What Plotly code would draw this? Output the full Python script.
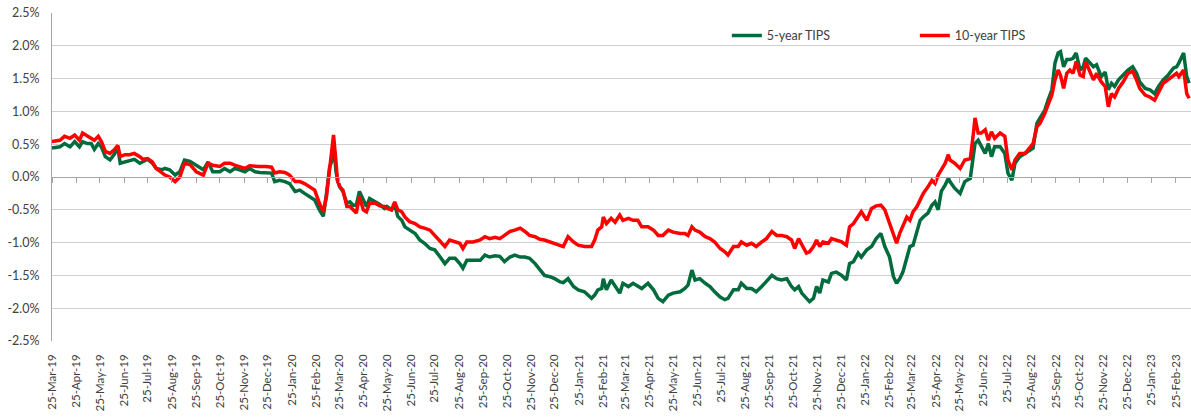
import pandas as pd
import plotly.graph_objects as go

# ---------------- data ----------------
start = "2019-03-25"
# observation day, counted from the start date
day = [0, 10, 16, 23, 29, 35, 39, 45, 50, 54,
       59, 63, 68, 74, 79, 84, 87, 93, 99, 105,
       112, 116, 122, 128, 133, 140, 144, 150, 157, 163,
       169, 176, 184, 193, 199, 205, 214, 220, 227, 233,
       239, 246, 252, 259, 265, 273, 280, 284, 290, 297,
       303, 310, 316, 322, 329, 335, 341, 346, 350, 352,
       354, 357, 359, 362, 364, 367, 371, 376, 380, 384,
       388, 392, 397, 401, 405, 412, 418, 424, 427, 433,
       437, 441, 446, 450, 456, 463, 469, 475, 482, 488,
       495, 501, 507, 514, 520, 524, 529, 537, 546, 552,
       558, 565, 571, 577, 584, 590, 597, 603, 609, 616,
       622, 628, 635, 641, 648, 652, 658, 665, 671, 679,
       688, 692, 696, 701, 703, 707, 713, 718, 724, 728,
       735, 741, 747, 752, 760, 767, 773, 779, 786, 792,
       801, 807, 811, 816, 820, 826, 833, 839, 845, 852,
       858, 862, 869, 875, 879, 886, 892, 898, 905, 911,
       918, 924, 930, 937, 943, 947, 952, 956, 962, 966,
       971, 975, 979, 983, 990, 994, 1000, 1007, 1013, 1017,
       1022, 1028, 1032, 1039, 1045, 1051, 1057, 1062, 1068, 1073,
       1077, 1081, 1085, 1090, 1094, 1098, 1103, 1107, 1111, 1117,
       1122, 1126, 1130, 1134, 1139, 1143, 1145, 1151, 1158, 1164,
       1171, 1175, 1177, 1181, 1185, 1190, 1194, 1198, 1202, 1209,
       1215, 1219, 1224, 1228, 1234, 1241, 1247, 1251, 1256, 1260,
       1266, 1270, 1275, 1279, 1283, 1286, 1290, 1294, 1298, 1302,
       1306, 1311, 1315, 1318, 1324, 1328, 1332, 1338, 1343, 1347,
       1351, 1355, 1360, 1366, 1372, 1378, 1383, 1387, 1394, 1400,
       1406, 1411, 1417, 1423, 1430, 1434, 1437, 1443, 1447, 1450]

tips5 = [0.44, 0.46, 0.51, 0.46, 0.54, 0.46, 0.54, 0.51, 0.51, 0.42,
         0.51, 0.46, 0.31, 0.26, 0.34, 0.44, 0.21, 0.23, 0.26, 0.27,
         0.21, 0.23, 0.27, 0.21, 0.13, 0.11, 0.13, 0.11, 0.03, 0.08,
         0.26, 0.24, 0.18, 0.11, 0.23, 0.08, 0.08, 0.13, 0.08, 0.13,
         0.11, 0.08, 0.13, 0.08, 0.07, 0.06, 0.06, -0.07, -0.05, -0.07,
         -0.10, -0.22, -0.20, -0.25, -0.30, -0.35, -0.50, -0.60, -0.25, -0.05,
         0.15, 0.25, 0.55, 0.10, -0.05, -0.15, -0.22, -0.40, -0.38, -0.43,
         -0.43, -0.22, -0.35, -0.45, -0.33, -0.38, -0.42, -0.48, -0.45, -0.50,
         -0.43, -0.60, -0.66, -0.76, -0.81, -0.86, -0.96, -1.01, -1.09, -1.11,
         -1.22, -1.32, -1.24, -1.24, -1.32, -1.39, -1.27, -1.27, -1.27, -1.19,
         -1.22, -1.20, -1.21, -1.29, -1.22, -1.19, -1.22, -1.22, -1.24, -1.32,
         -1.42, -1.50, -1.52, -1.55, -1.60, -1.61, -1.55, -1.67, -1.72, -1.75,
         -1.85, -1.80, -1.72, -1.70, -1.55, -1.72, -1.57, -1.67, -1.77, -1.62,
         -1.67, -1.62, -1.67, -1.70, -1.62, -1.72, -1.85, -1.90, -1.80, -1.77,
         -1.75, -1.70, -1.65, -1.42, -1.57, -1.55, -1.62, -1.67, -1.75, -1.83,
         -1.87, -1.85, -1.72, -1.72, -1.62, -1.70, -1.70, -1.75, -1.67, -1.60,
         -1.50, -1.55, -1.57, -1.55, -1.67, -1.72, -1.67, -1.77, -1.85, -1.90,
         -1.85, -1.67, -1.77, -1.57, -1.60, -1.47, -1.45, -1.50, -1.57, -1.32,
         -1.29, -1.16, -1.22, -1.11, -1.06, -0.94, -0.86, -1.06, -1.22, -1.52,
         -1.62, -1.55, -1.45, -1.22, -1.06, -1.04, -0.81, -0.66, -0.61, -0.55,
         -0.43, -0.38, -0.50, -0.22, -0.12, -0.02, -0.07, -0.17, -0.25, -0.07,
         -0.02, 0.41, 0.51, 0.56, 0.46, 0.36, 0.51, 0.31, 0.46, 0.46,
         0.36, 0.06, -0.05, 0.21, 0.31, 0.36, 0.41, 0.44, 0.82, 0.90,
         1.02, 1.17, 1.33, 1.74, 1.89, 1.91, 1.68, 1.79, 1.79, 1.81,
         1.89, 1.63, 1.68, 1.81, 1.74, 1.68, 1.71, 1.53, 1.60, 1.33,
         1.43, 1.38, 1.48, 1.55, 1.63, 1.68, 1.58, 1.45, 1.35, 1.33,
         1.27, 1.38, 1.48, 1.55, 1.66, 1.68, 1.74, 1.89, 1.53, 1.43]

tips10 = [0.54, 0.56, 0.62, 0.59, 0.64, 0.56, 0.67, 0.62, 0.59, 0.56,
          0.62, 0.54, 0.39, 0.36, 0.41, 0.48, 0.31, 0.34, 0.34, 0.36,
          0.31, 0.27, 0.28, 0.23, 0.13, 0.06, 0.03, 0.00, -0.07, 0.00,
          0.21, 0.19, 0.08, 0.03, 0.21, 0.18, 0.16, 0.21, 0.21, 0.18,
          0.16, 0.13, 0.17, 0.16, 0.16, 0.16, 0.15, 0.06, 0.08, 0.07,
          0.03, -0.07, -0.07, -0.10, -0.15, -0.20, -0.40, -0.53, -0.30, -0.10,
          0.05, 0.35, 0.64, 0.25, -0.05, -0.15, -0.20, -0.45, -0.45, -0.50,
          -0.55, -0.30, -0.50, -0.53, -0.40, -0.40, -0.44, -0.45, -0.48, -0.50,
          -0.38, -0.50, -0.53, -0.61, -0.68, -0.71, -0.76, -0.78, -0.81, -0.89,
          -0.99, -1.06, -0.96, -0.99, -1.01, -1.09, -0.99, -0.99, -0.96, -0.91,
          -0.94, -0.92, -0.94, -0.89, -0.83, -0.81, -0.78, -0.83, -0.89, -0.91,
          -0.95, -0.96, -0.99, -1.01, -1.04, -1.06, -0.91, -0.99, -1.04, -1.06,
          -1.06, -0.96, -0.81, -0.76, -0.61, -0.71, -0.63, -0.69, -0.58, -0.66,
          -0.63, -0.66, -0.66, -0.76, -0.76, -0.81, -0.89, -0.89, -0.81, -0.84,
          -0.86, -0.86, -0.89, -0.76, -0.81, -0.84, -0.91, -0.94, -0.99, -1.09,
          -1.14, -1.19, -1.06, -1.06, -0.99, -1.04, -1.01, -1.06, -0.99, -0.94,
          -0.83, -0.89, -0.89, -0.91, -0.96, -1.09, -0.94, -1.04, -1.16, -1.14,
          -1.06, -0.96, -1.06, -0.99, -1.01, -0.94, -0.96, -0.99, -1.04, -0.76,
          -0.71, -0.61, -0.53, -0.66, -0.48, -0.44, -0.43, -0.50, -0.71, -0.86,
          -1.01, -0.86, -0.76, -0.61, -0.66, -0.53, -0.45, -0.35, -0.25, -0.15,
          -0.05, -0.10, 0.03, 0.11, 0.21, 0.34, 0.26, 0.21, 0.13, 0.26,
          0.28, 0.67, 0.90, 0.67, 0.67, 0.72, 0.56, 0.69, 0.59, 0.67,
          0.62, 0.26, 0.11, 0.26, 0.36, 0.36, 0.46, 0.51, 0.77, 0.82,
          0.97, 1.10, 1.25, 1.48, 1.63, 1.55, 1.35, 1.58, 1.63, 1.58,
          1.76, 1.55, 1.53, 1.76, 1.58, 1.48, 1.58, 1.45, 1.38, 1.07,
          1.27, 1.22, 1.35, 1.45, 1.58, 1.61, 1.48, 1.35, 1.25, 1.22,
          1.17, 1.30, 1.43, 1.48, 1.55, 1.58, 1.53, 1.63, 1.27, 1.20]

series_names = ["5-year TIPS", "10-year TIPS"]
y_tick_values = [-2.5, -2.0, -1.5, -1.0, -0.5, 0.0, 0.5, 1.0, 1.5, 2.0, 2.5]
y_tick_labels = ["-2.5%", "-2.0%", "-1.5%", "-1.0%", "-0.5%", "0.0%",
                 "0.5%", "1.0%", "1.5%", "2.0%", "2.5%"]
x_tick_dates = pd.date_range("2019-03-25", "2023-02-25", freq=pd.DateOffset(months=1))
x_tick_labels = [d.strftime("%d-%b-%y") for d in x_tick_dates]

# ---------------- figure ----------------
dates = pd.Timestamp(start) + pd.to_timedelta(day, unit="D")
x_range = ["2019-03-25", "2023-03-16 10:00"]

GREEN = "#006B3C"
RED = "#FF0000"
FONT = "Lato"
TXT = "#404040"

fig = go.Figure()
fig.add_trace(go.Scatter(x=dates, y=tips5, mode="lines", name=series_names[0],
                         line=dict(color=GREEN, width=3.5)))
fig.add_trace(go.Scatter(x=dates, y=tips10, mode="lines", name=series_names[1],
                         line=dict(color=RED, width=3.5)))
# helper trace so the zero-level axis (with tick marks) gets drawn
fig.add_trace(go.Scatter(x=[dates[0]], y=[None], xaxis="x2", showlegend=False,
                         hoverinfo="skip", mode="lines"))

fig.update_layout(
    width=1191, height=417,
    margin=dict(l=52, r=0, t=13, b=76, autoexpand=False),
    plot_bgcolor="white", paper_bgcolor="white",
    font=dict(family=FONT, color=TXT),
    xaxis=dict(type="date", range=x_range, tickvals=x_tick_dates, ticktext=x_tick_labels,
               tickangle=-90, showgrid=False, zeroline=False, showline=False, automargin=False,
               ticks="", ticklabelstandoff=10, tickfont=dict(family=FONT, size=11.5, color=TXT)),
    xaxis2=dict(type="date", range=x_range, overlaying="x", anchor="free", position=0.5,
                side="bottom", tickvals=x_tick_dates, showticklabels=False, showgrid=False,
                zeroline=False, showline=True, linecolor="#a6a6a6", linewidth=1, automargin=False,
                ticks="outside", ticklen=5, tickcolor="#a6a6a6", tickwidth=1),
    yaxis=dict(range=[-2.5, 2.5], tickvals=y_tick_values, ticktext=y_tick_labels,
               showgrid=True, gridcolor="#d0d0d0", gridwidth=1, zeroline=False, automargin=False,
               showline=True, linecolor="#a6a6a6", linewidth=1, ticks="",
               ticklabelstandoff=9, tickfont=dict(family=FONT, size=12.5, color=TXT)),
    legend=dict(orientation="h", x=0.5925, y=0.93, xanchor="left", yanchor="middle",
                entrywidth=143, bgcolor="rgba(0,0,0,0)",
                font=dict(family=FONT, size=12.5, color=TXT)),
    showlegend=True,
)

fig.write_html("out.html", config={"displayModeBar": False},
               post_script="document.body.style.margin='0';")
